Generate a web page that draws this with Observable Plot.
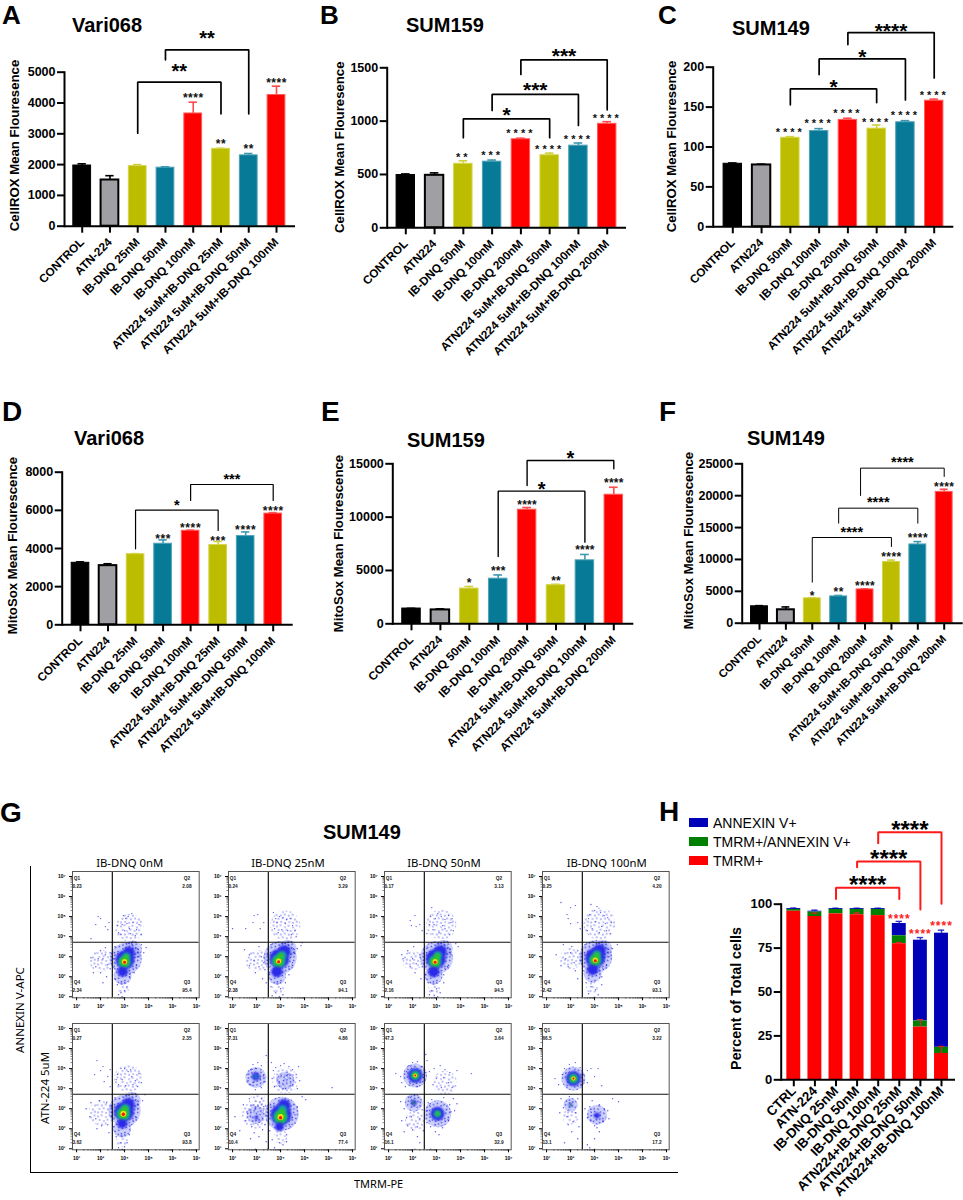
<!DOCTYPE html>
<html>
<head>
<meta charset="utf-8">
<script src="https://cdn.jsdelivr.net/npm/d3@7"></script>
<script src="https://cdn.jsdelivr.net/npm/@observablehq/plot@0.6"></script>
<style>
html,body{margin:0;padding:0;background:#fff}
#fig{position:relative;width:963px;height:1200px;overflow:hidden;font-family:"Liberation Sans",Arial,sans-serif}
#fig svg{position:absolute;background:transparent}
.t{position:absolute;white-space:nowrap;line-height:1;color:#000}
.sw{position:absolute}
</style>
</head>
<body>
<svg width="0" height="0" style="position:absolute">
  <defs>
    <pattern id="stip" patternUnits="userSpaceOnUse" width="23" height="19">
      <g fill="#2a2ae8" fill-opacity=".85">
        <circle cx="1.5" cy="2" r=".7"/><circle cx="5" cy="0.8" r=".7"/><circle cx="9.5" cy="2.6" r=".7"/><circle cx="13" cy="1.2" r=".7"/><circle cx="17.5" cy="3" r=".7"/><circle cx="21" cy="1" r=".7"/>
        <circle cx="3.2" cy="5.5" r=".7"/><circle cx="7.4" cy="6.6" r=".7"/><circle cx="11" cy="5.2" r=".7"/><circle cx="15.2" cy="6.4" r=".7"/><circle cx="19.6" cy="5.8" r=".7"/>
        <circle cx="1" cy="9.5" r=".7"/><circle cx="5.4" cy="10" r=".7"/><circle cx="9.2" cy="9" r=".7"/><circle cx="13.4" cy="10.2" r=".7"/><circle cx="17.2" cy="9.2" r=".7"/><circle cx="21.6" cy="10" r=".7"/>
        <circle cx="3" cy="13.4" r=".7"/><circle cx="7.2" cy="12.8" r=".7"/><circle cx="11.4" cy="13.8" r=".7"/><circle cx="15.6" cy="13" r=".7"/><circle cx="19.4" cy="14" r=".7"/>
        <circle cx="1.6" cy="17" r=".7"/><circle cx="5.6" cy="16.4" r=".7"/><circle cx="9.6" cy="17.4" r=".7"/><circle cx="13.8" cy="16.6" r=".7"/><circle cx="17.6" cy="17.4" r=".7"/><circle cx="21.4" cy="16.2" r=".7"/>
      </g>
    </pattern>
    <pattern id="stipDense" patternUnits="userSpaceOnUse" width="23" height="19" patternTransform="rotate(37) translate(3 5)">
      <rect width="23" height="19" fill="#8e96f6" fill-opacity=".45"/>
      <g fill="#1c1ce0" fill-opacity=".9">
        <circle cx="1.5" cy="2" r=".8"/><circle cx="5" cy="0.8" r=".8"/><circle cx="9.5" cy="2.6" r=".8"/><circle cx="13" cy="1.2" r=".8"/><circle cx="17.5" cy="3" r=".8"/><circle cx="21" cy="1" r=".8"/>
        <circle cx="3.2" cy="4.5" r=".8"/><circle cx="7.4" cy="5.6" r=".8"/><circle cx="11" cy="4.6" r=".8"/><circle cx="15.2" cy="5.4" r=".8"/><circle cx="19.6" cy="4.8" r=".8"/>
        <circle cx="1" cy="7.5" r=".8"/><circle cx="5.4" cy="8" r=".8"/><circle cx="9.2" cy="7.4" r=".8"/><circle cx="13.4" cy="8.2" r=".8"/><circle cx="17.2" cy="7.6" r=".8"/><circle cx="21.6" cy="8" r=".8"/>
        <circle cx="3" cy="10.4" r=".8"/><circle cx="7.2" cy="10.8" r=".8"/><circle cx="11.4" cy="10.2" r=".8"/><circle cx="15.6" cy="11" r=".8"/><circle cx="19.4" cy="10.4" r=".8"/>
        <circle cx="1.6" cy="13.2" r=".8"/><circle cx="5.6" cy="13.8" r=".8"/><circle cx="9.6" cy="13.2" r=".8"/><circle cx="13.8" cy="13.6" r=".8"/><circle cx="17.6" cy="13.2" r=".8"/><circle cx="21.4" cy="14" r=".8"/>
        <circle cx="3.4" cy="16.4" r=".8"/><circle cx="7.6" cy="16.8" r=".8"/><circle cx="11.8" cy="16.2" r=".8"/><circle cx="15.4" cy="17" r=".8"/><circle cx="19.8" cy="16.6" r=".8"/>
      </g>
    </pattern>
  </defs>
</svg>
<div id="fig"></div>
<script>
// ---------- category labels
const labels25A = ["CONTROL","ATN-224","IB-DNQ 25nM","IB-DNQ 50nM","IB-DNQ 100nM","ATN224 5uM+IB-DNQ 25nM","ATN224 5uM+IB-DNQ 50nM","ATN224 5uM+IB-DNQ 100nM"];
const labels50 = ["CONTROL","ATN224","IB-DNQ 50nM","IB-DNQ 100nM","IB-DNQ 200nM","ATN224 5uM+IB-DNQ 50nM","ATN224 5uM+IB-DNQ 100nM","ATN224 5uM+IB-DNQ 200nM"];
const labels25D = ["CONTROL","ATN224","IB-DNQ 25nM","IB-DNQ 50nM","IB-DNQ 100nM","ATN224 5uM+IB-DNQ 25nM","ATN224 5uM+IB-DNQ 50nM","ATN224 5uM+IB-DNQ 100nM"];
const labelsH = ["CTRL","ATN-224","IB-DNQ 25nM","IB-DNQ 50nM","IB-DNQ 100nM","ATN224+IB-DNQ 25nM","ATN224+IB-DNQ 50nM","ATN224+IB-DNQ 100nM"];

// ---------- bar values and error tops
const valuesA = [1970,1500,1950,1900,3660,2510,2300,4260];
const errorsA = [2026,1640,2000,1930,4026,2530,2360,4546];
const valuesB = [495,492,600,620,830,680,770,975];
const errorsB = [505,515,628,635,840,700,795,995];
const valuesC = [79,77.5,111.5,120,134,123,131,158];
const errorsC = [80,78.5,113,123,136,127.5,133,160];
const valuesD = [3250,3100,3700,4250,4930,4180,4650,5830];
const errorsD = [3300,3200,3730,4450,4960,4370,4870,5880];
const valuesE = [1430,1300,3300,4230,10700,3620,5950,12100];
const errorsE = [1450,1400,3500,4580,10900,3700,6500,12800];
const valuesF = [2650,2100,3900,4200,5300,9600,12350,20600];
const errorsF = [2750,2550,4000,4350,5400,9900,12800,21000];

// ---------- significance stars over bars: [bar, text, y]
const starsA = [[4,"****",4242],[5,"**",2759],[6,"**",2586],[7,"****",4750]];
const starsB = [[2,"**",687],[3,"***",700],[4,"****",912],[5,"****",756],[6,"****",856],[7,"****",1047]];
const starsC = [[2,"****",122],[3,"****",133],[4,"****",145],[5,"****",134],[6,"****",143],[7,"****",168]];
const starsD = [[3,"***",4647],[4,"****",5241],[5,"***",4542],[6,"****",5119],[7,"****",6132]];
const starsE = [[2,"*",4062],[3,"***",5219],[4,"****",11406],[5,"**",4312],[6,"****",7187],[7,"****",13437]];
const starsF = [[2,"*",4707],[3,"**",5282],[4,"****",6328],[5,"****",10774],[6,"****",13807],[7,"****",21861]];

// ---------- brackets: [left bar, right bar, left end, top, right end, text, text y]
const bracketsA = [[2,5,3020,4676,3650,"**",5190],[3,6,5403,5727,3650,"**",6250]];
const bracketsB = [[2,5,844,1022,844,"*",1100],[3,6,1100,1250,959,"***",1334],[4,7,1437,1575,1106,"***",1656]];
const bracketsC = [[2,5,152.8,172.9,155.7,"*",181],[3,6,190.8,210.4,159,"*",219.6],[4,7,228.4,243.4,186.6,"****",251]];
const bracketsD = [[2,5,3983,6010,4944,"*",6464],[4,7,6516,7355,6516,"***",7827]];
const bracketsE = [[3,6,6312,12437,7656,"*",13062],[4,7,12969,15312,14531,"*",15937]];
const bracketsF = [[2,5,6433,13441,12029,"****",14800],[3,6,15690,18043,15690,"****",19455],[3.83,7,20031,24320,23012,"****",25784]];

// ---------- panel H stacks (cumulative tops) and errors
const tmrmTop = [96,93,94.5,94,93.5,77.5,30,15];
const doubleTop = [97,95.5,97,97,97,82,33.5,18.5];
const annexinTop = [97.5,96,97.5,97.5,97.5,89,79.5,83.5];
const annexinErr = [97.8,96.6,97.7,97.7,97.7,90.2,81,85.2];
const innerErrH = [[1,94,94.9],[3,94,95],[5,77.5,78.2],[6,30,34.3],[7,15,19]];
const starsH = [[5,"****",93.2],[6,"****",84.5],[7,"****",89.2]];
const bracketsH = [[2,5,103,109.3,103,"****",114],[3,6,121,124.3,97,"****",128.7],[4,7,134.7,141,100.2,"****",145.7]];
const legendH = ["ANNEXIN V+","TMRM+/ANNEXIN V+","TMRM+"];
const legendColors = ["#0000b8","#008000","#ff0000"];

// ---------- panel G: gate percentages by panel [Q1,Q2,Q3,Q4]
const gateRow1 = [["0.23","2.08","95.4","2.34"],["0.24","3.29","94.1","2.38"],["0.17","3.13","94.5","2.16"],["0.25","4.20","93.1","2.42"]];
const gateRow2 = [["0.27","2.35","93.8","3.62"],["7.31","4.86","77.4","10.4"],["47.3","3.64","32.9","16.1"],["66.5","3.22","17.2","13.1"]];
const flowHeads = ["IB-DNQ 0nM","IB-DNQ 25nM","IB-DNQ 50nM","IB-DNQ 100nM"];
const heat = ["","#2a2ae8","#18a2a8","#2cc42c","#f0e010","#f01c10"];

// density areas: [log x, log y, size, level]; level 6 = thin scatter, 0 = dense scatter, 1-5 = heat colours
const blobs11 = [[4.2,4.45,14,6],[3,2.8,11,6],[4.05,2.9,16,0],[3.92,2.05,9,0],[3.95,1.45,6,6],[4.35,3.35,9,0],[4.02,2.85,9.5,1],[4.18,3.2,6,1],[3.92,2.25,5,1],[4,2.75,6.5,2],[4.08,3,4.2,2],[4,2.75,5,3],[4.05,2.95,3.2,3],[4,2.75,2.6,4],[4,2.72,1.5,5]];
const blobs12 = [[4.2,4.55,15,6],[3,2.8,11,6],[3.98,2.95,16.5,0],[3.85,2.05,9,0],[3.9,1.45,6,6],[4.3,3.4,9,0],[3.95,2.9,10,1],[4.15,3.25,6.5,1],[3.85,2.25,5.5,1],[3.92,2.78,7,2],[4.05,3.05,4.8,2],[3.92,2.78,5.2,3],[4,3,3.4,3],[3.92,2.78,2.7,4],[3.92,2.75,1.5,5]];
const blobs13 = [[4.2,4.6,15,6],[3,2.8,10,6],[4,2.95,16.5,0],[3.88,2.05,9,0],[3.9,1.4,6,6],[4.3,3.4,9,0],[3.97,2.9,10,1],[4.15,3.25,6.5,1],[3.88,2.25,5.5,1],[3.94,2.75,6.5,2],[4.05,3.05,4.4,2],[3.94,2.75,5,3],[4.02,3,3.2,3],[3.94,2.75,2.6,4],[3.94,2.72,1.5,5]];
const blobs14 = [[4.2,4.65,16,6],[3,2.9,11,6],[4.05,3,16.5,0],[3.92,2.15,9,0],[3.9,1.45,6,6],[4.35,3.4,9,0],[4.03,2.95,10,1],[4.2,3.3,6.5,1],[3.92,2.35,5.5,1],[4.03,2.83,6.5,2],[4.1,3.1,4.4,2],[4.03,2.83,5,3],[4.08,3.05,3.2,3],[4.03,2.83,2.6,4],[4.03,2.8,1.5,5]];
const blobs21 = [[4.15,4.5,14,6],[3.05,2.8,13,6],[4,2.9,16,0],[3.9,2,9,0],[3.9,1.4,6,6],[4.3,3.4,9,0],[3.98,2.85,10,1],[4.15,3.2,6.5,1],[3.9,2.25,4.8,1],[3.95,2.75,7,2],[4.03,3,4.8,2],[3.95,2.75,5.4,3],[4,2.95,3.6,3],[3.95,2.75,3,4],[3.95,2.72,1.7,5]];
const blobs22 = [[2.97,4.55,10.5,0],[4.2,4.4,13,6],[4.2,4.4,9,0],[2.97,2.7,14,6],[2.97,2.7,9,0],[3.05,3.3,9,6],[4.05,2.75,17,0],[4,1.6,7,6],[2.97,4.6,4,1],[3,2.55,2,1],[4.02,2.7,10.5,1],[4.15,3.15,6.5,1],[3.95,2.1,4.4,1],[2.97,4.6,1.8,2],[4,2.6,7.5,2],[4.08,2.95,4.6,2],[4,2.58,5.6,3],[4.05,2.8,3.6,3],[4,2.58,3,4],[4,2.55,1.7,5]];
const blobs23 = [[3.1,4.65,12,0],[3.05,3.3,9,0],[3.1,2.4,10,6],[4.05,2.75,13.5,0],[4.35,4.3,12,6],[3.11,4.66,7.5,1],[3.05,3.3,3,1],[4.04,2.75,7,1],[3.11,4.66,4.8,2],[3.05,3.3,1.3,3],[4.04,2.75,3.8,2],[3.11,4.66,3.2,3],[4.04,2.75,2.2,3],[3.11,4.66,2,4],[3.11,4.66,1,5]];
const blobs24 = [[3.12,4.5,12,0],[3,3.2,7,0],[3,2.6,8,6],[4.1,2.7,10,0],[3.12,4.5,7.5,1],[3,3.2,2,1],[4.1,2.66,3,1],[3.12,4.5,5,2],[3,3.2,1,3],[3.12,4.5,3.4,3],[3.12,4.5,2.1,4],[3.12,4.5,1.1,5]];

// scattered events: [log x, log y]
const dots11 = [[3.75,4.2],[3.9,4.6],[4.05,4.9],[4.2,4.4],[4.35,4.7],[4.5,4.35],[4.6,4.6],[4.15,5],[3.85,4.1],[4,4.3],[4.25,4.15],[4.45,4.05],[3.7,4.55],[4.3,5.15],[3.95,5.05],[4.7,4.1],[4.1,4.65],[2.9,5],[3,4.9],[3.2,4.5],[3.3,4.35],[2.8,4.6],[3.35,4.7],[2.6,3.9],[2.6,2.95],[2.8,2.5],[3,2.2],[3.1,2.9],[3.2,3.1],[3.3,2.6],[3,3.3],[2.9,2.9],[3.4,3.2],[3.4,2.4],[3.25,2],[3.2,3.45],[2.7,2.2],[3.1,1.7],[4.7,3.6],[4.9,3.45],[4.6,3],[4.5,2.6],[4.4,2.2],[3.6,3.5],[3.7,1.6],[4.1,1.5],[3.85,1.2],[4,1.3],[3.9,1],[3.75,1.1],[4.2,2],[3.6,1.9],[4.8,3.2],[4.3,3.65],[3.55,2.9],[3.6,2.4]];
const dots12 = [[3.7,5.2],[3.8,4.9],[3.95,5],[4.1,4.95],[4.25,4.85],[4.4,4.9],[4.5,4.55],[4.6,4.3],[3.75,4.4],[3.9,4.2],[4.3,4.3],[4.45,4.1],[4.65,4],[4.2,4.65],[3.85,4.7],[4.05,4.35],[2.9,5.05],[3.05,5.1],[2.85,4.7],[3.15,4.4],[2.55,4.4],[3.3,4.7],[2,4.4],[2.5,3.35],[2.7,3.1],[2.9,2.8],[3.1,2.5],[3.2,3],[3.3,2.7],[3.1,3.5],[3.35,2.35],[3.45,3.1],[2.95,2.2],[2.7,2.55],[3.25,1.9],[3.4,1.7],[4.85,3.55],[4.6,3.15],[4.5,2.7],[4.35,2.1],[3.6,3.6],[3.6,1.5],[4,1.4],[3.8,1.2],[4.1,1.1],[3.65,1.05],[3.95,1],[4.2,1.7],[4.7,3.4],[4.9,3.7],[3.55,2.2]];
const dots13 = [[3.8,5.45],[3.95,4.9],[4.05,5.15],[4.2,5],[4.35,4.85],[4.5,5.05],[4.6,4.7],[4.7,4.3],[3.7,4.6],[3.85,4.35],[4.1,4.2],[4.35,4.4],[4.55,4.1],[3.75,5],[4.25,4.55],[3.9,4.6],[3.6,4.15],[4.65,4.9],[2.9,4.8],[3.1,5.05],[3.15,4.5],[2.95,4.55],[3.3,4.6],[3.4,4.3],[2.55,3.1],[2.8,3.3],[3,2.9],[3.15,2.65],[3.3,3.1],[3.4,2.5],[2.9,2.5],[3.1,2.2],[3.35,1.9],[3.05,3.5],[2.6,2.9],[4.8,3.65],[4.9,3.5],[4.6,3.1],[4.45,2.5],[4.3,2.1],[3.6,3.4],[3.65,1.7],[4,1.4],[3.8,1.3],[4.15,1.2],[3.7,1.1],[4.05,1],[3.9,1.05],[4.3,1.7],[3.55,2.1]];
const dots14 = [[3.85,5.6],[4,5.3],[4.1,5.5],[4.25,5.2],[4.4,5.05],[4.55,4.95],[4.7,4.7],[3.75,4.9],[3.9,4.4],[4.05,4.75],[4.3,4.5],[4.5,4.3],[4.65,4.15],[3.7,4.3],[4.2,4.2],[3.8,5.1],[4.45,4.65],[2.6,5.7],[2.85,5.1],[3,5.45],[3.2,5.55],[3,4.65],[2.9,4.9],[3.3,4.7],[3.4,4.4],[2.7,3.6],[2.4,3.1],[2.8,2.9],[3,3.2],[3.15,2.7],[3.3,3.3],[2.9,2.5],[3.2,2.3],[3.4,2.8],[3.05,3.5],[2.6,2.55],[3.3,1.9],[4.95,3.6],[4.75,3.4],[4.6,3],[4.5,2.6],[4.3,2],[3.6,3.6],[3.65,1.7],[4.05,1.35],[3.85,1.5],[4.15,1.1],[3.75,1.15],[4,.98],[4.3,1.6],[3.55,2.3]];
const dots21 = [[3.7,4.7],[3.85,5],[4,5],[4.15,4.85],[4.3,4.6],[4.45,4.4],[4.55,4.1],[3.75,4.2],[3.9,4.45],[4.05,4.15],[4.25,4.95],[4.6,4.75],[4.7,4.3],[3.65,4.45],[4.35,4.2],[3.1,5.1],[2.85,5.4],[3,4.9],[3.3,4.6],[3.15,4.35],[2.75,4.7],[3.4,4.95],[3.4,4.1],[2.4,3],[2.6,3.3],[2.8,2.5],[2.55,2.6],[3.3,2.2],[3.25,3.3],[2.95,3.4],[2.85,2],[3.05,2.15],[3.45,2.6],[3.45,3.1],[4.85,3.7],[4.75,3.4],[4.55,3],[4.45,2.6],[4.3,2.2],[3.6,3.55],[3.65,1.6],[3.85,1.3],[4.1,1.3],[3.75,1.05],[4,1.1],[3.9,.98],[4.2,1.7],[3.55,2.1],[3.35,1.8]];
const dots22 = [[2.6,4.7],[2.65,4.4],[2.75,4.95],[2.85,5.2],[3.05,5.3],[3.2,5.15],[3.3,4.7],[3.35,4.35],[3.2,4.05],[2.95,3.95],[2.75,4.2],[3,5],[2.85,4.3],[3.15,4.5],[3.4,5.65],[3.62,5.3],[3.7,4.9],[3.8,5.05],[4,5.15],[4.15,5.25],[4.35,5.1],[4.5,4.95],[4.65,4.7],[4.75,5.1],[4.8,4.4],[3.75,4.1],[3.95,4.35],[4.1,4],[4.3,4.7],[4.5,4.2],[3.65,4.5],[4.7,4],[6.15,4.05],[2.1,2.6],[2.3,1.9],[2.45,3.2],[2.55,2.4],[2.6,2.85],[2.7,3.5],[2.8,2.1],[2.9,1.8],[3.1,1.6],[3.25,1.95],[3.35,2.2],[3.3,3.1],[3.2,3.5],[2.75,1.5],[2.95,3],[3.4,2.65],[3.4,1.35],[4.9,3.6],[5.05,3.45],[4.7,3.1],[4.6,2.7],[4.4,2.1],[4.25,1.7],[3.65,1.45],[3.95,1.3],[4.1,1.2],[3.75,1.05],[4.25,1.35],[3.55,1.9],[2.95,.98],[3.45,.98]];
const dots23 = [[2.3,4.75],[2.5,4.6],[2.7,4.1],[2.75,4.85],[2.85,5.15],[3,5.3],[3.2,5.35],[3.4,5.1],[3.55,4.8],[3.6,5.4],[3.55,5.7],[3.35,4.3],[3.45,4.55],[3.2,4.1],[2.9,4.25],[2.55,4.3],[3.7,4.85],[3.9,5],[4.15,5.15],[4.35,4.95],[4.3,4.55],[4,4.5],[4.5,4.3],[4.55,4.8],[3.85,4.2],[4.2,4.05],[4.65,4.05],[5.45,4.75],[4.85,4.9],[2.5,3.35],[2.65,3],[2.75,2.55],[2.9,3.55],[2.8,2.15],[3,1.95],[3.2,1.6],[3.3,2.5],[3.4,2.95],[3.35,3.45],[3.2,2.1],[2.95,2.6],[2.55,2.4],[2.65,1.85],[3.3,1.3],[3.45,1.9],[3.6,2.9],[3.6,2.3],[3.65,3.3],[3.8,3.45],[4.3,3.55],[4.55,3.2],[4.7,3.5],[4.85,3.25],[4.75,2.9],[4.5,2.4],[4.25,2.05],[3.95,1.85],[3.75,2.1],[4.1,1.7],[4.6,2.85],[3.1,.98],[3.75,.98]];
const dots24 = [[2.35,4.5],[2.5,4.2],[2.65,4.7],[2.75,5],[2.95,5.2],[3.2,5.3],[3.4,5.05],[3.55,4.7],[3.7,4.9],[3.85,5],[4,4.6],[4.15,5],[4.3,4.15],[3.7,4.3],[3.45,4.2],[2.85,4.05],[2.6,3.5],[2.7,3.05],[2.85,2.6],[2.95,3.6],[3.2,2.8],[3.3,3.5],[3.1,2.35],[3.35,2.1],[2.9,2.2],[2.55,2.8],[3.05,1.85],[3.3,1.5],[2.75,1.3],[3.6,3],[3.7,2.55],[3.8,3.1],[3.9,3.4],[4.2,3.2],[4.4,3],[4.55,2.9],[4.75,3.5],[5,3.35],[4.6,2.5],[4.35,2.35],[4,2.15],[3.85,2.4],[4.1,2.05],[4,1.5],[4.2,1.85],[3.7,1.2],[4,.98],[3.8,1.05]];

const flowBlobs = [[blobs11,blobs12,blobs13,blobs14],[blobs21,blobs22,blobs23,blobs24]];
const flowDots = [[dots11,dots12,dots13,dots14],[dots21,dots22,dots23,dots24]];
const flowGates = [gateRow1,gateRow2];
const decadesX = [2,3,4,5,6,7];
const decadesY = [1,2,3,4,5,6,7];
const superscripts = {1:"¹",2:"²",3:"³",4:"⁴",5:"⁵",6:"⁶",7:"⁷"};

// ---------- shared text
const panelLetters = [["A",2,15,26],["B",320,15,26],["C",658,15,26],["D",2,412,28],["E",321,412,28],["F",659,412,28],["G",0,813,28],["H",659,812,28]];
const panelTitles = [["Vari068",72,25],["SUM159",406,25],["SUM149",732,28],["Vari068",74,438],["SUM159",407,440],["SUM149",747,438],["SUM149",323,832]];

// ---------- drawing
const fig = document.getElementById("fig");
const font = '"Liberation Sans",Arial,sans-serif';
const olive = "#bdbd00", teal = "#067a97", red = "#ff0000";
const colorsStd = ["#000000","#a0a0a4",olive,teal,red,olive,teal,red];
const edgesStd = ["#000000","#000000","#d4d44a","#4fa2b8","#ff5c5c","#d4d44a","#4fa2b8","#ff5c5c"];
const errStd = ["#000000","#000000","#d0d040","#3f98b0","#ff4a4a","#d0d040","#3f98b0","#ff4a4a"];

function put(el, x, y) { el.style.left = x + "px"; el.style.top = y + "px"; fig.appendChild(el); }
function text(str, x, y, o = {}) {
  const d = document.createElement("div");
  d.className = "t";
  d.textContent = str;
  d.style.fontSize = (o.size || 12) + "px";
  d.style.fontWeight = o.weight || "normal";
  d.style.fontFamily = o.family || font;
  const tx = o.center ? "-50%" : "0";
  d.style.transform = `translate(${tx},-50%)` + (o.rotate ? ` rotate(${o.rotate}deg)` : "");
  put(d, x, y);
  return d;
}
function spaceStars(svg, spacing, limit) {
  if (!spacing) return;
  svg.querySelectorAll("text").forEach(t => {
    if (!/^\*+$/.test(t.textContent)) return;
    const g = t.closest("g[font-size]");
    const fs = g ? parseFloat(g.getAttribute("font-size")) : 0;
    if (fs && fs <= limit) t.style.letterSpacing = spacing + "px";
  });
}
function bracketMarks(list, o) {
  const marks = [];
  for (const [i1, i2, yl, top, yr, txt, ty] of list) {
    marks.push(Plot.line([[i1, yl], [i1, top], [i2, top], [i2, yr]], {
      x: d => d[0], y: d => d[1], stroke: o.stroke || "#000", strokeWidth: o.width, strokeLinejoin: "miter"
    }));
    marks.push(Plot.text([txt], {
      x: () => (i1 + i2) / 2 + (o.shift || 0), y: () => ty, text: d => d, fontSize: o.size, fontWeight: "bold",
      fill: "#000", dy: o.size * 0.25
    }));
  }
  return marks;
}
function axes(c, b) {
  return [
    Plot.frame({anchor: "left", stroke: "#000", strokeWidth: 2}),
    Plot.ruleY([0], {stroke: "#000", strokeWidth: 2}),
    Plot.axisY({ticks: c.ticks, tickFormat: String, tickSize: 7, tickPadding: 2, strokeWidth: 2, label: null, fontSize: c.tickFont || 12.5, fontWeight: "bold"}),
    Plot.axisX({ticks: d3.range(8), tickFormat: i => c.labels[i], tickRotate: -45, tickSize: 7, tickPadding: c.xPad || 7, strokeWidth: 2, label: null, fontSize: c.xFont || 11.75, fontWeight: "bold"}),
    Plot.text([c.yTitle], {frameAnchor: "left", textAnchor: "middle", rotate: -90, dx: c.yTitleX - c.left, dy: c.yTitleY - (c.top + c.y0) / 2, fontSize: c.yTitleSize || 13.2, fontWeight: "bold", fill: "#000"})
  ];
}
function plotOptions(c, b, marks) {
  return {
    width: b[2], height: b[3],
    marginLeft: c.left - b[0], marginRight: b[0] + b[2] - c.right,
    marginTop: c.top - b[1], marginBottom: b[1] + b[3] - c.y0,
    x: {domain: [0, 7], range: [c.c0 - b[0], c.c7 - b[0]]},
    y: {domain: [0, c.max], range: [c.y0 - b[1], c.top - b[1]]},
    color: {type: "identity"},
    style: {background: "transparent", fontFamily: font, fontWeight: "bold", color: "#000"},
    marks
  };
}
function barPanel(c) {
  const b = c.box;
  const hw = 0.32;
  const rows = c.values.map((v, i) => ({i, v, e: c.errors[i]}));
  const fills = c.fills || colorsStd;
  const svg = Plot.plot(plotOptions(c, b, [
    Plot.ruleX(rows, {x: "i", y1: "v", y2: "e", stroke: d => errStd[d.i], strokeWidth: 1.6}),
    Plot.ruleY(rows, {y: "e", x1: d => d.i - 0.15, x2: d => d.i + 0.15, stroke: d => errStd[d.i], strokeWidth: 1.6}),
    Plot.rectY(rows, {x1: d => d.i - hw, x2: d => d.i + hw, y1: 0, y2: "v", fill: d => fills[d.i], stroke: d => edgesStd[d.i], strokeWidth: 1}),
    Plot.rectY(rows.filter(d => d.i === 1), {x1: d => d.i - hw, x2: d => d.i + hw, y1: 0, y2: "v", fill: fills[1], stroke: "#000", strokeWidth: 2}),
    ...axes(c, b),
    Plot.text(c.stars, {x: d => d[0], y: d => d[2], text: d => d[1], fontSize: c.starSize, fontWeight: "bold", fill: "#111", dy: c.starSize * 0.25}),
    ...bracketMarks(c.brackets, c.bracketStyle)
  ]));
  spaceStars(svg, c.starSpacing, c.starSize);
  put(svg, b[0], b[1]);
}

barPanel({box: [0, 0, 320, 395], left: 64, right: 295, top: 71.7, y0: 225.7, c0: 81.7, c7: 276, max: 5000, ticks: [0,1000,2000,3000,4000,5000],
  labels: labels25A, values: valuesA, errors: errorsA, stars: starsA, brackets: bracketsA, starSize: 12, starSpacing: .5,
  bracketStyle: {width: 1.7, size: 20}, yTitle: "CellROX Mean Flouresence", yTitleX: 14, yTitleY: 145});
barPanel({box: [320, 0, 320, 395], left: 386.7, right: 626, top: 67.3, y0: 227.3, c0: 405.3, c7: 606.7, max: 1500, ticks: [0,500,1000,1500],
  labels: labels50, values: valuesB, errors: errorsB, stars: starsB, brackets: bracketsB, starSize: 11, starSpacing: 3,
  bracketStyle: {width: 1.7, size: 21}, yTitle: "CellROX Mean Flouresence", yTitleX: 339.3, yTitleY: 146.7});
barPanel({box: [640, 0, 323, 395], left: 712.7, right: 953.3, top: 66.7, y0: 226.3, c0: 732.3, c7: 933.7, max: 200, ticks: [0,50,100,150,200],
  labels: labels50, values: valuesC, errors: errorsC, stars: starsC, brackets: bracketsC, starSize: 11, starSpacing: 3,
  bracketStyle: {width: 1.7, size: 21}, yTitle: "CellROX Mean Flouresence", yTitleX: 671, yTitleY: 146});
barPanel({box: [0, 400, 320, 385], left: 61.7, right: 292.7, top: 471.7, y0: 624.3, c0: 80, c7: 272.7, max: 8000, ticks: [0,2000,4000,6000,8000],
  labels: labels25D, values: valuesD, errors: errorsD, stars: starsD, brackets: bracketsD, starSize: 12, starSpacing: .6,
  bracketStyle: {width: 1.2, size: 14.5}, yTitle: "MitoSox Mean Flourescence", yTitleX: 12.7, yTitleY: 545});
barPanel({box: [320, 400, 320, 385], left: 392.3, right: 633.3, top: 463.3, y0: 623.3, c0: 411, c7: 613.3, max: 15000, ticks: [0,5000,10000,15000],
  labels: labels50, values: valuesE, errors: errorsE, stars: starsE, brackets: bracketsE, starSize: 12, starSpacing: .2,
  bracketStyle: {width: 1.4, size: 20}, yTitle: "MitoSox Mean Flourescence", yTitleX: 338.3, yTitleY: 543});
barPanel({box: [640, 400, 323, 385], left: 741.7, right: 962.7, top: 463.3, y0: 622.7, c0: 759, c7: 943.7, max: 25000, ticks: [0,5000,10000,15000,20000,25000],
  labels: labels50, values: valuesF, errors: errorsF, stars: starsF, brackets: bracketsF, starSize: 12, starSpacing: .4,
  bracketStyle: {width: 1, size: 14.5}, yTitle: "MitoSox Mean Flourescence", yTitleX: 688, yTitleY: 540, xFont: 11.2});

// panel H
(function () {
  const b = [680, 790, 283, 410];
  const c = {left: 780.7, right: 955, top: 903.7, y0: 1079.3, c0: 793.3, c7: 941, max: 100, ticks: [0,25,50,75,100], labels: labelsH,
    yTitle: "Percent of Total cells", yTitleX: 736, yTitleY: 998, yTitleSize: 14.3, xFont: 13.3, tickFont: 13, xPad: 2};
  const hw = 0.33;
  const rows = tmrmTop.map((v, i) => ({i, red: v, green: doubleTop[i], blue: annexinTop[i], err: annexinErr[i]}));
  const inner = innerErrH.map(d => ({i: d[0], a: d[1], b: d[2]}));
  const svg = Plot.plot(plotOptions(c, b, [
    Plot.ruleX(rows, {x: "i", y1: "blue", y2: "err", stroke: "#3030c8", strokeWidth: 1.4}),
    Plot.ruleY(rows, {y: "err", x1: d => d.i - 0.15, x2: d => d.i + 0.15, stroke: "#3030c8", strokeWidth: 1.4}),
    Plot.rectY(rows, {x1: d => d.i - hw, x2: d => d.i + hw, y1: "green", y2: "blue", fill: legendColors[0]}),
    Plot.rectY(rows, {x1: d => d.i - hw, x2: d => d.i + hw, y1: "red", y2: "green", fill: legendColors[1]}),
    Plot.rectY(rows, {x1: d => d.i - hw, x2: d => d.i + hw, y1: 0, y2: "red", fill: legendColors[2]}),
    Plot.ruleX(inner, {x: "i", y1: "a", y2: "b", stroke: "#d02828", strokeWidth: 1.3}),
    Plot.ruleY(inner, {y: "b", x1: d => d.i - 0.15, x2: d => d.i + 0.15, stroke: "#d02828", strokeWidth: 1.3}),
    ...axes(c, b),
    Plot.text(starsH, {x: d => d[0], y: d => d[2], text: d => d[1], fontSize: 12, fontWeight: "bold", fill: "#ff2020", dy: 3}),
    ...bracketMarks(bracketsH, {stroke: "#ff1a1a", width: 2, size: 24})
  ]));
  spaceStars(svg, 1, 12);
  put(svg, b[0], b[1]);
  legendH.forEach((t, i) => {
    const s = document.createElement("div");
    s.className = "sw";
    s.style.width = "18.7px"; s.style.height = "9px"; s.style.background = legendColors[i];
    put(s, 689, 818 + i * 19.2);
    text(t, 713, 823 + i * 19.2, {size: 14});
  });
})();

// panel G
const flowLefts = [72, 227.7, 383.7, 541.7];
const flowTops = [870.7, 1023.3];
const minorLogs = [2,3,4,5,6,7,8,9].map(m => Math.log10(m));
function flowPanel(row, col) {
  const ml = 22, mt = 4, mr = 4, mb = 14, w = 126.7, h = 126.3;
  const blobs = flowBlobs[row][col], dots = flowDots[row][col], g = flowGates[row][col];
  const xd = [1.83, 7.11], yd = [0.95, 7.25];
  const minorX = decadesX.flatMap(d => minorLogs.map(m => d + m)).filter(v => v < xd[1]);
  const minorY = decadesY.flatMap(d => minorLogs.map(m => d + m)).filter(v => v < yd[1]);
  const labelStyle = {fontSize: 4.8, fontWeight: "bold", fill: "#222"};
  const corners = [
    {x: 2.02, ya: 6.9, yb: 6.5, a: "start", q: "Q1", v: g[0]},
    {x: 6.6, ya: 6.9, yb: 6.5, a: "end", q: "Q2", v: g[1]},
    {x: 6.6, ya: 1.7, yb: 1.32, a: "end", q: "Q3", v: g[2]},
    {x: 2.02, ya: 1.7, yb: 1.32, a: "start", q: "Q4", v: g[3]}
  ];
  const svg = Plot.plot({
    width: w + ml + mr, height: h + mt + mb,
    marginLeft: ml, marginRight: mr, marginTop: mt, marginBottom: mb,
    x: {domain: xd}, y: {domain: yd}, r: {type: "identity"}, color: {type: "identity"},
    style: {background: "transparent", fontFamily: font},
    marks: [
      Plot.dot(blobs.filter(d => d[3] === 6), {x: d => d[0], y: d => d[1], r: d => d[2], fill: "url(#stip)"}),
      Plot.dot(blobs.filter(d => d[3] === 0), {x: d => d[0], y: d => d[1], r: d => d[2], fill: "url(#stipDense)"}),
      Plot.dot(blobs.filter(d => d[3] >= 1 && d[3] <= 3), {x: d => d[0], y: d => d[1], r: d => d[2], fill: d => heat[d[3]], imageFilter: "blur(1.1px)"}),
      Plot.dot(blobs.filter(d => d[3] >= 4 && d[3] <= 5), {x: d => d[0], y: d => d[1], r: d => d[2], fill: d => heat[d[3]], imageFilter: "blur(0.35px)"}),
      Plot.dot(dots, {x: d => d[0], y: d => d[1], r: 0.7, fill: "#2a2ae8", fillOpacity: 0.8}),
      Plot.ruleX([3.49], {stroke: "#111", strokeWidth: 1.2}),
      Plot.ruleY([3.72], {stroke: "#111", strokeWidth: 1.2}),
      Plot.frame({stroke: "#555", strokeWidth: 1}),
      Plot.axisX({ticks: decadesX, tickFormat: d => "10" + superscripts[d], tickSize: 3, tickPadding: 4, strokeWidth: 1, label: null, fontSize: 5, fontWeight: "bold"}),
      Plot.axisX({ticks: minorX, tickFormat: () => "", tickSize: 1.5, strokeWidth: .5, label: null}),
      Plot.axisY({ticks: decadesY, tickFormat: d => "10" + superscripts[d], tickSize: 3, tickPadding: 4, strokeWidth: 1, label: null, fontSize: 5, fontWeight: "bold"}),
      Plot.axisY({ticks: minorY, tickFormat: () => "", tickSize: 1.5, strokeWidth: .5, label: null}),
      Plot.text(corners, {x: "x", y: "ya", text: "q", textAnchor: d => d.a, ...labelStyle}),
      Plot.text(corners, {x: "x", y: "yb", text: "v", textAnchor: d => d.a, ...labelStyle})
    ]
  });
  put(svg, flowLefts[col] - ml, flowTops[row] - mt);
}
for (let r = 0; r < 2; r++) for (let c = 0; c < 4; c++) flowPanel(r, c);

// corner rules of panel G
const gl = document.createElement("div");
gl.className = "sw";
gl.style.cssText = "left:30px;top:866px;width:647px;height:306px;border-left:1.5px solid #000;border-bottom:1.5px solid #000";
fig.appendChild(gl);

const sans = '"Noto Sans",sans-serif';
const headX = [129.7, 288, 444, 606.7];
flowHeads.forEach((t, i) => text(t, headX[i], 862.5, {size: 11.3, family: sans, center: true}));
text("TMRM-PE", 354, 1183, {size: 11, family: sans});
text("ANNEXIN V-APC", 20, 1010, {size: 11.5, family: sans, center: true, rotate: -90});
text("ATN-224 5uM", 45, 1087.7, {size: 11.5, family: sans, center: true, rotate: -90});

panelLetters.forEach(([t, x, y, s]) => text(t, x, y, {size: s, weight: "bold"}));
panelTitles.forEach(([t, x, y]) => text(t, x, y, {size: 20, weight: "bold"}));
</script>
</body>
</html>
